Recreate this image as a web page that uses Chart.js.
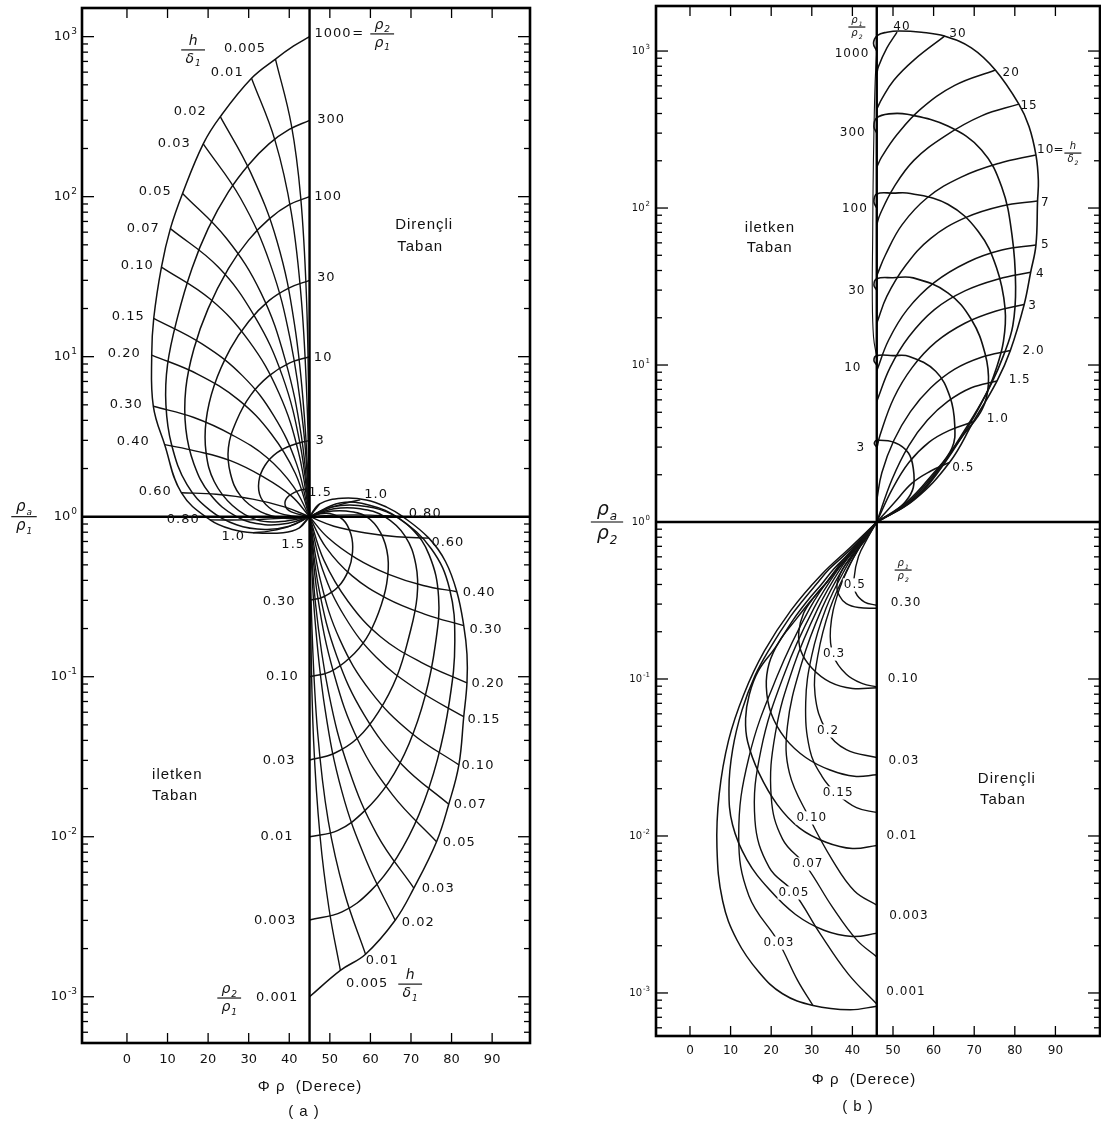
<!DOCTYPE html>
<html>
<head>
<meta charset="utf-8">
<script src="https://cdn.jsdelivr.net/npm/chart.js@4.4.1/dist/chart.umd.min.js"></script>
<style>
  body { margin: 0; background: #fff; }
  #wrap { position: relative; width: 1101px; height: 1122px; }
  canvas { position: absolute; top: 0; }
</style>
</head>
<body>
<div id="wrap">
  <canvas id="chartA" width="560" height="1122" style="left:0"></canvas>
  <canvas id="chartB" width="541" height="1122" style="left:560px"></canvas>
</div>
<script>
// every curve point is [phase in degrees, log10 of the apparent resistivity ratio]

const phaseTicks = [0, 10, 20, 30, 40, 50, 60, 70, 80, 90];
const decadeExps = [3, 2, 1, 0, -1, -2, -3];

// ---- (a) upper half: rho2/rho1 curves and h/delta1 curves
const aUpRatioNames = ['1000', '300', '100', '30', '10', '3', '1.5'];
const aUpRatioCurves = [
  [[45,3.0],[41,2.94],[36.6,2.86],[30.7,2.74],[23.0,2.5],[18.8,2.33],[13.7,2.02],[10.7,1.8],[8.5,1.56],[6.6,1.24],[6.1,1.01],[6.5,0.69],[9.3,0.45],[13.4,0.15],[20.5,-0.02],[26,-0.08],[31.1,-0.1],[38.5,-0.1],[42.5,-0.07],[45,0]],
  [[45,2.477],[40,2.42],[35,2.33],[30,2.2],[25,2.03],[20,1.8],[16,1.55],[12.5,1.25],[10,0.95],[9.6,0.7],[11,0.45],[14.8,0.2],[20.5,0.04],[27,-0.05],[34,-0.08],[40,-0.06],[45,0]],
  [[45,2.0],[40,1.95],[35,1.86],[30,1.73],[25,1.55],[20,1.3],[16.5,1.05],[14.5,0.8],[14.5,0.55],[16.5,0.33],[20.5,0.14],[27,0.0],[34,-0.05],[40,-0.04],[45,0]],
  [[45,1.477],[40,1.43],[35,1.35],[30,1.22],[25.5,1.05],[21.5,0.82],[19.5,0.6],[19.5,0.4],[21.5,0.22],[26,0.07],[32,-0.02],[38,-0.03],[45,0]],
  [[45,1.0],[40,0.96],[35,0.88],[30.5,0.76],[27,0.6],[25,0.43],[25.5,0.27],[28,0.13],[33,0.03],[39,-0.01],[45,0]],
  [[45,0.477],[41,0.45],[37,0.4],[34,0.32],[32.5,0.22],[33,0.12],[36,0.04],[40.5,0.005],[45,0]],
  [[45,0.176],[42,0.16],[39.5,0.12],[39,0.07],[40.5,0.03],[45,0]]
];
const aUpDepthNames = ['0.005','0.01','0.02','0.03','0.05','0.07','0.10','0.15','0.20','0.30','0.40','0.60','0.80','1.0','1.5'];
const aUpDepthCurves = [
  [[36.6,2.86],[40.5,2.45],[42.8,2.0],[44.2,1.4],[44.8,0.7],[45,0]],
  [[30.7,2.74],[36.5,2.35],[40.5,1.9],[43,1.35],[44.4,0.7],[45,0]],
  [[23.0,2.5],[30.5,2.15],[37,1.72],[41.3,1.2],[43.8,0.6],[45,0]],
  [[18.8,2.33],[28,1.99],[35.3,1.58],[40.3,1.1],[43.5,0.55],[45,0]],
  [[13.7,2.02],[24.5,1.74],[33,1.4],[39,0.98],[43,0.5],[45,0]],
  [[10.7,1.8],[22.5,1.56],[31.5,1.25],[38.3,0.88],[42.7,0.45],[45,0]],
  [[8.5,1.56],[20.5,1.36],[30,1.1],[37.5,0.77],[42.3,0.4],[45,0]],
  [[6.6,1.24],[18.5,1.08],[28.5,0.88],[36.2,0.63],[41.8,0.33],[45,0]],
  [[6.1,1.01],[17.5,0.89],[27.5,0.73],[35.5,0.52],[41.5,0.27],[45,0]],
  [[6.5,0.69],[16.5,0.62],[26,0.51],[34.5,0.37],[41,0.19],[45,0]],
  [[9.3,0.45],[17,0.41],[25.5,0.35],[33.5,0.25],[40.5,0.13],[45,0]],
  [[13.4,0.15],[22,0.14],[31,0.11],[39,0.06],[45,0]],
  [[20.5,-0.02],[29,-0.02],[38,-0.01],[45,0]],
  [[31.1,-0.1],[35,-0.09],[40,-0.06],[45,0]],
  [[42.5,-0.07],[45,0]]
];

// ---- (a) lower half
const aLowRatioNames = ['0.001', '0.003', '0.01', '0.03', '0.10', '0.30'];
const aLowRatioCurves = [
  [[45,0],[47.5,0.08],[53,0.115],[59,0.105],[64,0.06],[68,0.0],[74.4,-0.134],[78.5,-0.28],[81.3,-0.469],[83,-0.681],[83.8,-0.86],[83.8,-1.038],[83.0,-1.25],[81.8,-1.551],[79.3,-1.797],[76.3,-2.031],[70.7,-2.321],[66.1,-2.522],[58.8,-2.734],[52.6,-2.835],[45,-3.0]],
  [[45,-2.52],[53,-2.47],[60,-2.34],[66.5,-2.13],[72,-1.86],[76.5,-1.52],[79.5,-1.15],[80.8,-0.78],[79.5,-0.45],[75,-0.2],[67,-0.01],[60,0.07],[52.5,0.085],[45,0]],
  [[45,-2.0],[52,-1.96],[58.5,-1.84],[64.5,-1.66],[69.5,-1.42],[73.5,-1.12],[76,-0.8],[76.8,-0.5],[74.5,-0.24],[70,-0.07],[64,0.03],[57,0.07],[50.5,0.06],[45,0]],
  [[45,-1.52],[51,-1.48],[57,-1.38],[62,-1.22],[66.5,-1.0],[69.5,-0.75],[71.5,-0.5],[71.2,-0.3],[68.5,-0.12],[63.5,0.0],[57.5,0.05],[51,0.05],[45,0]],
  [[45,-1.0],[50,-0.97],[55,-0.88],[59,-0.76],[62,-0.6],[64,-0.42],[64.3,-0.25],[62.5,-0.1],[59,0.0],[54,0.035],[49,0.03],[45,0]],
  [[45,-0.523],[48.5,-0.5],[52,-0.44],[54.5,-0.34],[55.6,-0.22],[55.2,-0.11],[53.3,-0.02],[50,0.02],[47,0.015],[45,0]]
];
const aLowDepthNames = ['0.005','0.01','0.02','0.03','0.05','0.07','0.10','0.15','0.20','0.30','0.40','0.60','0.80','1.0','1.5'];
const aLowDepthCurves = [
  [[52.6,-2.835],[49.8,-2.45],[47.6,-2.0],[46,-1.4],[45.3,-0.7],[45,0]],
  [[58.8,-2.734],[53.6,-2.35],[49.6,-1.9],[47,-1.35],[45.6,-0.7],[45,0]],
  [[66.1,-2.522],[59,-2.15],[53,-1.72],[48.8,-1.2],[46.2,-0.6],[45,0]],
  [[70.7,-2.321],[61.7,-1.99],[54.7,-1.58],[49.7,-1.1],[46.5,-0.55],[45,0]],
  [[76.3,-2.031],[65.5,-1.74],[57,-1.4],[51,-0.98],[47,-0.5],[45,0]],
  [[79.3,-1.797],[67.8,-1.55],[58.5,-1.24],[51.7,-0.87],[47.3,-0.45],[45,0]],
  [[81.8,-1.551],[70,-1.35],[60,-1.09],[52.5,-0.77],[47.7,-0.4],[45,0]],
  [[83,-1.25],[71.5,-1.08],[61.5,-0.88],[53.8,-0.63],[48.2,-0.33],[45,0]],
  [[83.8,-1.038],[72.5,-0.91],[62.5,-0.75],[54.5,-0.53],[48.5,-0.27],[45,0]],
  [[83,-0.681],[73.5,-0.61],[64,-0.51],[55.5,-0.37],[49,-0.19],[45,0]],
  [[81.3,-0.469],[73,-0.43],[64.5,-0.36],[56.5,-0.26],[49.5,-0.13],[45,0]],
  [[74.4,-0.134],[66.5,-0.125],[58.5,-0.1],[51,-0.06],[45,0]],
  [[68,0.0],[60,0.01],[52,0.01],[45,0]],
  [[57.5,0.105],[54,0.085],[50,0.055],[45,0]],
  [[47.5,0.08],[45,0]]
];

// ---- (b) upper half: rho1/rho2 curves and h/delta2 curves
const bUpRatioNames = ['1000', '300', '100', '30', '10', '3'];
const bUpRatioCurves = [
  [[46,3.0],[45.2,3.05],[46.2,3.1],[48.5,3.12],[51.5,3.128],[57,3.12],[62.7,3.095],[69.3,3.02],[75.2,2.879],[81,2.662],[83.5,2.52],[85.2,2.338],[85.8,2.175],[85.6,2.045],[85.2,1.764],[83.9,1.591],[82.3,1.385],[78.9,1.093],[75.6,0.898],[69.8,0.639],[63.9,0.379],[55.2,0.141],[46,0]],
  [[46,2.477],[45.3,2.52],[46,2.575],[49,2.6],[53.5,2.597],[63.5,2.522],[71.8,2.37],[76.8,2.132],[79.3,1.829],[80.2,1.5],[79.5,1.25],[77.2,1.06],[74.2,0.88],[68.8,0.62],[60.6,0.3],[54.5,0.13],[46,0]],
  [[46,2.0],[45.3,2.04],[46,2.09],[50,2.095],[54.3,2.093],[63.5,2.024],[71,1.851],[75.5,1.62],[77.6,1.36],[77.2,1.15],[75.2,0.96],[73,0.82],[68,0.6],[60.3,0.3],[54.2,0.13],[46,0]],
  [[46,1.477],[45.3,1.51],[46,1.55],[50,1.556],[55,1.555],[63.5,1.46],[69.3,1.29],[72.7,1.07],[73.5,0.88],[72,0.72],[67.5,0.56],[60.0,0.3],[53.9,0.13],[46,0]],
  [[46,1.0],[45.3,1.03],[46,1.06],[50,1.06],[54,1.055],[60.5,0.96],[64,0.8],[65.2,0.62],[64.5,0.47],[59.6,0.3],[53.5,0.13],[46,0]],
  [[46,0.477],[45.4,0.5],[46,0.52],[50.5,0.505],[53.8,0.44],[55,0.34],[55,0.22],[53.1,0.13],[50,0.06],[46,0]]
];
const bUpHug = [[46,3.0],[45.6,2.8],[45.3,2.48],[45.1,2.15],[45.0,1.83],[44.9,1.44],[45.2,1.18],[46,1.05]];
const bUpDepthNames = ['40','30','20','15','10','7','5','4','3','2.0','1.5','1.0','0.5'];
const bUpDepthCurves = [
  [[51,3.121],[48.5,3.02],[46.4,2.9],[46,2.85]],
  [[62.7,3.095],[55.2,2.944],[50.2,2.814],[47.25,2.695],[46,2.63]],
  [[75.2,2.879],[65.2,2.781],[56.8,2.63],[51,2.468],[47.25,2.327],[46,2.26]],
  [[81,2.662],[71.8,2.587],[62.7,2.457],[55.2,2.305],[50.2,2.132],[46.8,1.959],[46,1.894]],
  [[85.2,2.338],[76,2.284],[66.8,2.197],[58.5,2.067],[52.25,1.894],[48.1,1.699],[46,1.569]],
  [[85.6,2.045],[76.8,2.013],[67.7,1.937],[59.3,1.807],[53.1,1.634],[48.5,1.439],[46,1.266]],
  [[85.2,1.764],[76.8,1.732],[68.5,1.656],[60.2,1.526],[53.5,1.353],[48.9,1.158],[46,0.963]],
  [[83.9,1.591],[76,1.548],[67.7,1.472],[60.2,1.353],[53.9,1.18],[49.3,0.985],[46,0.768]],
  [[82.3,1.385],[75.2,1.342],[67.7,1.266],[60.6,1.147],[54.75,0.985],[50.2,0.79],[46.8,0.552],[46,0.465]],
  [[78.9,1.093],[71.8,1.05],[65.2,0.974],[59.3,0.855],[54.3,0.703],[50.2,0.519],[47.25,0.314],[46,0.14]],
  [[75.6,0.898],[69.3,0.855],[63.5,0.768],[58.5,0.649],[53.9,0.487],[49.75,0.271],[46,0]],
  [[69.8,0.639],[63.9,0.584],[58.9,0.509],[53.9,0.379],[49.75,0.206],[46,0]],
  [[63.9,0.379],[59.3,0.325],[54.75,0.249],[50.2,0.119],[46,0]]
];

// ---- (b) lower half
const bLowRatioNames = ['0.001', '0.003', '0.01', '0.03', '0.10', '0.30'];
const bLowRatioCurves = [
  [[46,0],[39.4,-0.164],[32.4,-0.334],[24.9,-0.561],[18.3,-0.823],[13.3,-1.095],[9.5,-1.391],[7.2,-1.732],[6.64,-2.073],[8.05,-2.414],[11.6,-2.664],[17,-2.868],[22.8,-3.005],[30.3,-3.08],[39.4,-3.107],[46,-3.084]],
  [[46,0],[42.3,-0.1],[38.5,-0.2],[34.3,-0.3],[31,-0.4],[27.8,-0.5],[24.8,-0.6],[19.8,-0.8],[16,-0.98],[12.8,-1.2],[10.5,-1.45],[9.6,-1.7],[10.5,-1.93],[14,-2.15],[19.5,-2.34],[26,-2.5],[33,-2.6],[40,-2.64],[46,-2.62]],
  [[46,0],[42.7,-0.1],[39.2,-0.2],[35.4,-0.3],[32.3,-0.4],[29,-0.5],[25.5,-0.62],[21,-0.8],[16.8,-0.95],[14.6,-1.1],[13.7,-1.25],[14.2,-1.4],[17,-1.6],[21.5,-1.8],[27,-1.95],[33.5,-2.04],[40,-2.08],[46,-2.06]],
  [[46,0],[43,-0.1],[39.8,-0.2],[36.3,-0.3],[33.2,-0.4],[29.8,-0.5],[25.8,-0.63],[22,-0.76],[19.5,-0.9],[18.8,-1.05],[20,-1.22],[23.5,-1.38],[28.5,-1.5],[34.5,-1.58],[40.5,-1.62],[46,-1.61]],
  [[46,0],[43.3,-0.09],[40.3,-0.18],[37,-0.28],[33.8,-0.38],[30.5,-0.48],[28,-0.58],[26.8,-0.7],[27.3,-0.82],[30,-0.93],[34.5,-1.02],[40,-1.06],[46,-1.055]],
  [[46,0],[43.6,-0.1],[40.5,-0.2],[37.6,-0.3],[36.2,-0.4],[36.8,-0.47],[38.5,-0.52],[41.5,-0.545],[46,-0.55]]
];
const bLowDepthNames = ['0.5','0.3','0.2','0.15','0.10','0.07','0.05','0.03'];
const bLowDepthCurves = [
  [[46,0],[43.8,-0.1],[41.5,-0.22],[40.4,-0.36],[40.8,-0.45],[43,-0.51],[46,-0.53]],
  [[46,0],[43.2,-0.1],[39.8,-0.25],[36.5,-0.45],[34.6,-0.68],[35.3,-0.85],[38.5,-0.97],[42.5,-1.03],[46,-1.05]],
  [[46,0],[42.8,-0.12],[38.8,-0.3],[34.5,-0.55],[31.5,-0.85],[30.8,-1.1],[33.6,-1.33],[38.5,-1.45],[46,-1.5]],
  [[46,0],[42.6,-0.12],[38.2,-0.3],[33.5,-0.55],[30,-0.85],[28.5,-1.15],[29.5,-1.45],[32.5,-1.62],[36.1,-1.73],[41,-1.82],[46,-1.85]],
  [[46,0],[42.4,-0.12],[37.6,-0.3],[32.5,-0.55],[27.5,-0.9],[24,-1.3],[24.5,-1.6],[29.5,-1.89],[35,-2.15],[40.5,-2.35],[46,-2.44]],
  [[46,0],[42.2,-0.12],[37,-0.3],[31.5,-0.55],[25.5,-0.92],[21,-1.35],[20,-1.75],[22.8,-2.02],[28.6,-2.19],[35,-2.45],[41,-2.66],[46,-2.77]],
  [[46,0],[42,-0.12],[36.5,-0.3],[30.5,-0.55],[23.5,-0.95],[17.5,-1.45],[16,-1.9],[19.5,-2.2],[25.6,-2.36],[32,-2.62],[39,-2.88],[46,-3.07]],
  [[46,0],[41.8,-0.12],[36,-0.3],[29.5,-0.55],[21.5,-0.98],[14.5,-1.5],[12,-2.0],[14.5,-2.38],[21.9,-2.68],[26.5,-2.92],[30.3,-3.08]]
];

// ---- curve labels: [text, phase, log10 ratio]
const aUpLeftLabels = [['0.005',29.1,2.923],['0.01',24.7,2.773],['0.02',15.6,2.529],['0.03',11.65,2.329],['0.05',6.97,2.029],['0.07',4.01,1.798],['0.10',2.54,1.567],['0.15',0.32,1.248],['0.20',-0.67,1.017],['0.30',-0.17,0.698],['0.40',1.55,0.467],['0.60',6.97,0.154],['0.80',13.87,-0.021],['1.0',26.2,-0.127],['1.5',40.97,-0.177]];
const aUpRightLabels = [['1000',50.8,3.017],['=',57.0,3.017],['300',50.3,2.479],['100',49.6,1.998],['30',49.1,1.492],['10',48.35,0.992],['3',47.6,0.473],['1.5',47.6,0.148],['1.0',61.4,0.136],['0.80',73.5,0.017]];
const aLowLeftLabels = [['0.30',37.5,-0.533],['0.10',38.3,-1.002],['0.03',37.5,-1.527],['0.01',37.0,-2.002],['0.003',36.5,-2.527],['0.001',37.0,-3.008]];
const aLowRightLabels = [['0.60',79.1,-0.164],['0.40',86.8,-0.477],['0.30',88.5,-0.708],['0.20',89.0,-1.046],['0.15',88.0,-1.271],['0.10',86.5,-1.558],['0.07',84.6,-1.802],['0.05',81.9,-2.039],['0.03',76.7,-2.327],['0.02',71.8,-2.539],['0.01',62.9,-2.777],['0.005',59.2,-2.921]];
const aFractions = [[['h',''],['δ','1'],16.3,2.917],[['ρ','2'],['ρ','1'],62.9,3.017],[['ρ','2'],['ρ','1'],25.2,-3.008],[['h',''],['δ','1'],69.8,-2.921]];
const aNotes = [['Dirençli',66.1,1.823],['Taban',66.6,1.685],['iletken',6.2,-1.615],['Taban',6.2,-1.746]];

const bUpLeftLabels = [['1000',39.9,2.981],['300',40.1,2.478],['100',40.6,1.994],['30',41.1,1.471],['10',40.1,0.981],['3',42.1,0.471]];
const bUpRightLabels = [['40',52.2,3.153],['30',66.0,3.108],['20',79.1,2.86],['15',83.5,2.65],['10',87.6,2.369],['=',90.9,2.369],['7',87.5,2.032],['5',87.5,1.764],['4',86.3,1.58],['3',84.4,1.376],['2.0',84.6,1.089],['1.5',81.2,0.904],['1.0',75.8,0.656],['0.5',67.3,0.344]];
const bLowRightLabels = [['0.30',53.2,-0.516],['0.10',52.5,-1.0],['0.03',52.7,-1.522],['0.01',52.2,-2.0],['0.003',53.9,-2.51],['0.001',53.2,-2.994]];
const bLowInnerLabels = [['0.5',40.6,-0.401],['0.3',35.5,-0.841],['0.2',34.0,-1.331],['0.15',36.5,-1.726],['0.10',30.0,-1.885],['0.07',29.1,-2.178],['0.05',25.6,-2.363],['0.03',21.9,-2.682]];
const bFractions = [[['ρ','1'],['ρ','2'],41.1,3.153],[['h',''],['δ','2'],94.3,2.35],[['ρ','1'],['ρ','2'],52.5,-0.306]];
const bNotes = [['iletken',13.5,1.873],['Taban',14.0,1.745],['Dirençli',70.9,-1.637],['Taban',71.4,-1.771]];


const FAM = '"DejaVu Sans", sans-serif';
const SANS = '"Liberation Sans", Arial, sans-serif';

function curveSets(list, width) {
    return list.map(pts => ({
        data: pts.map(p => ({ x: p[0], y: Math.pow(10, p[1]) })),
        showLine: true,
        borderColor: '#111',
        borderWidth: width,
        pointRadius: 0,
        tension: 0.4,
        fill: false
    }));
}

function seg(ctx, x1, y1, x2, y2) {
    ctx.beginPath();
    ctx.moveTo(x1, y1);
    ctx.lineTo(x2, y2);
    ctx.stroke();
}

function subText(ctx, base, sub, cx, cy, size, style) {
    const ss = Math.round(size * 0.62);
    ctx.font = style + ' ' + size + 'px ' + FAM;
    const wb = ctx.measureText(base).width;
    ctx.font = style + ' ' + ss + 'px ' + FAM;
    const ws = sub ? ctx.measureText(sub).width + 1 : 0;
    const x0 = cx - (wb + ws) / 2;
    ctx.textAlign = 'left';
    ctx.font = style + ' ' + size + 'px ' + FAM;
    ctx.fillText(base, x0, cy);
    if (sub) {
        ctx.font = style + ' ' + ss + 'px ' + FAM;
        ctx.fillText(sub, x0 + wb + 1, cy + size * 0.35);
    }
}

function fraction(ctx, cx, cy, top, bot, size) {
    subText(ctx, top[0], top[1], cx, cy - size * 0.62, size, 'italic');
    subText(ctx, bot[0], bot[1], cx, cy + size * 0.66, size, 'italic');
    ctx.lineWidth = 1.1;
    seg(ctx, cx - size * 0.85, cy, cx + size * 0.85, cy);
}

// frame, inner ticks, centre cross and all the lettering
const panelDecor = {
    id: 'panelDecor',
    afterDatasetsDraw(chart, args, o) {
        const { ctx, chartArea: ca, scales: { x, y } } = chart;
        const px = v => x.getPixelForValue(v);
        const py = e => y.getPixelForValue(Math.pow(10, e));
        ctx.save();
        ctx.strokeStyle = '#000';
        ctx.fillStyle = '#111';
        ctx.textBaseline = 'middle';

        // centre lines
        ctx.lineWidth = 2.4;
        seg(ctx, px(o.centerPhase), ca.top, px(o.centerPhase), ca.bottom);
        seg(ctx, ca.left, py(0), ca.right, py(0));

        // phase ticks top and bottom, pointing in
        ctx.lineWidth = 1.3;
        phaseTicks.forEach(v => {
            seg(ctx, px(v), ca.bottom, px(v), ca.bottom - o.xTickLen);
            seg(ctx, px(v), ca.top, px(v), ca.top + o.xTickLen);
        });
        // log ticks left and right, pointing in
        for (let e = -4; e <= 3; e++) {
            for (let m = 1; m <= 9; m++) {
                const v = m * Math.pow(10, e);
                if (v < y.min || v > y.max) continue;
                const yy = y.getPixelForValue(v);
                const len = m === 1 ? o.yMajor : o.yMinor;
                seg(ctx, ca.left, yy, ca.left + len, yy);
                seg(ctx, ca.right, yy, ca.right - len, yy);
            }
        }
        // frame
        ctx.lineWidth = 2.6;
        ctx.strokeRect(ca.left, ca.top, ca.right - ca.left, ca.bottom - ca.top);

        // phase tick labels and axis title
        ctx.font = o.tickSize + 'px ' + FAM;
        ctx.textAlign = 'center';
        phaseTicks.forEach(v => ctx.fillText(String(v), px(v), o.tickLabelY));
        ctx.font = '15px ' + SANS;
        ctx.letterSpacing = '1px';
        ctx.fillText('Φ ρ  (Derece)', o.titleX, o.titleY);
        ctx.fillText('( ' + o.panelTag + ' )', o.tagX, o.tagY);
        ctx.letterSpacing = '0px';

        // decade labels 10^n
        decadeExps.forEach(e => {
            const yy = py(e);
            ctx.font = o.decSize + 'px ' + FAM;
            const w10 = ctx.measureText('10').width;
            ctx.font = Math.round(o.decSize * 0.7) + 'px ' + FAM;
            const exp = String(e);
            const we = ctx.measureText(exp).width;
            const x0 = o.decRight - w10 - we - 1;
            ctx.textAlign = 'left';
            ctx.font = o.decSize + 'px ' + FAM;
            ctx.fillText('10', x0, yy);
            ctx.font = Math.round(o.decSize * 0.7) + 'px ' + FAM;
            ctx.fillText(exp, x0 + w10 + 1, yy - o.decSize * 0.42);
        });
        // y axis title
        fraction(ctx, o.yTitleX, py(0), ['ρ', 'a'], ['ρ', o.yTitleSub], o.yTitleSize);

        // curve labels
        ctx.textAlign = 'center';
        ctx.font = o.labelSize + 'px ' + FAM;
        ctx.letterSpacing = o.labelSpacing;
        o.labels.forEach(l => ctx.fillText(l[0], px(l[1]), py(l[2])));
        (o.boxedLabels || []).forEach(l => {
            const w = ctx.measureText(l[0]).width;
            ctx.fillStyle = '#fff';
            ctx.fillRect(px(l[1]) - w / 2 - 1, py(l[2]) - o.labelSize * 0.55, w + 2, o.labelSize * 1.1);
            ctx.fillStyle = '#111';
            ctx.fillText(l[0], px(l[1]), py(l[2]));
        });
        ctx.letterSpacing = '0px';
        o.fractions.forEach(f => fraction(ctx, px(f[2]), py(f[3]), f[0], f[1], o.fracSize));

        // Direncli / iletken notes
        ctx.textAlign = 'left';
        ctx.font = '15px ' + SANS;
        ctx.letterSpacing = '1px';
        o.notes.forEach(n => ctx.fillText(n[0], px(n[1]), py(n[2])));
        ctx.restore();
    }
};

function baseOptions(padding, xr, yr, decor) {
    return {
        responsive: false,
        animation: false,
        devicePixelRatio: 1,
        layout: { padding: padding },
        scales: {
            x: { type: 'linear', min: xr[0], max: xr[1], display: false },
            y: { type: 'logarithmic', min: yr[0], max: yr[1], display: false }
        },
        plugins: { legend: { display: false }, tooltip: { enabled: false }, panelDecor: decor }
    };
}

// Panel (a)
new Chart(document.getElementById('chartA'), {
    type: 'scatter',
    data: {
        datasets: [
            ...curveSets(aUpRatioCurves, 1.5),
            ...curveSets(aUpDepthCurves, 1.4),
            ...curveSets(aLowRatioCurves, 1.5),
            ...curveSets(aLowDepthCurves, 1.4)
        ]
    },
    options: baseOptions({ left: 82, right: 30, top: 8, bottom: 79 }, [-11.08, 99.33], [0.000514, 1510], {
        centerPhase: 45, xTickLen: 10, yMajor: 12, yMinor: 6,
        tickSize: 13, tickLabelY: 1060, titleX: 310, titleY: 1087, panelTag: 'a', tagX: 304, tagY: 1112,
        decSize: 13, decRight: 77, yTitleX: 24, yTitleSub: '1', yTitleSize: 15,
        labelSize: 13, labelSpacing: '1px', fracSize: 14,
        labels: [...aUpLeftLabels, ...aUpRightLabels, ...aLowLeftLabels, ...aLowRightLabels],
        fractions: aFractions, notes: aNotes
    }),
    plugins: [panelDecor]
});

// Panel (b)
new Chart(document.getElementById('chartB'), {
    type: 'scatter',
    data: {
        datasets: [
            ...curveSets(bUpRatioCurves, 1.6),
            ...curveSets([bUpHug], 1.1),
            ...curveSets(bUpDepthCurves, 1.5),
            ...curveSets(bLowRatioCurves, 1.5),
            ...curveSets(bLowDepthCurves, 1.4)
        ]
    },
    options: baseOptions({ left: 96, right: 1, top: 6, bottom: 86 }, [-8.37, 100.98], [0.000532, 1936], {
        centerPhase: 46, xTickLen: 10, yMajor: 12, yMinor: 6,
        tickSize: 12, tickLabelY: 1051, titleX: 304, titleY: 1080, panelTag: 'b', tagX: 298, tagY: 1107,
        decSize: 10, decRight: 90, yTitleX: 47, yTitleSub: '2', yTitleSize: 19,
        labelSize: 12, labelSpacing: '1px', fracSize: 10,
        labels: [...bUpLeftLabels, ...bUpRightLabels, ...bLowRightLabels],
        boxedLabels: bLowInnerLabels,
        fractions: bFractions, notes: bNotes
    }),
    plugins: [panelDecor]
});
</script>
</body>
</html>
